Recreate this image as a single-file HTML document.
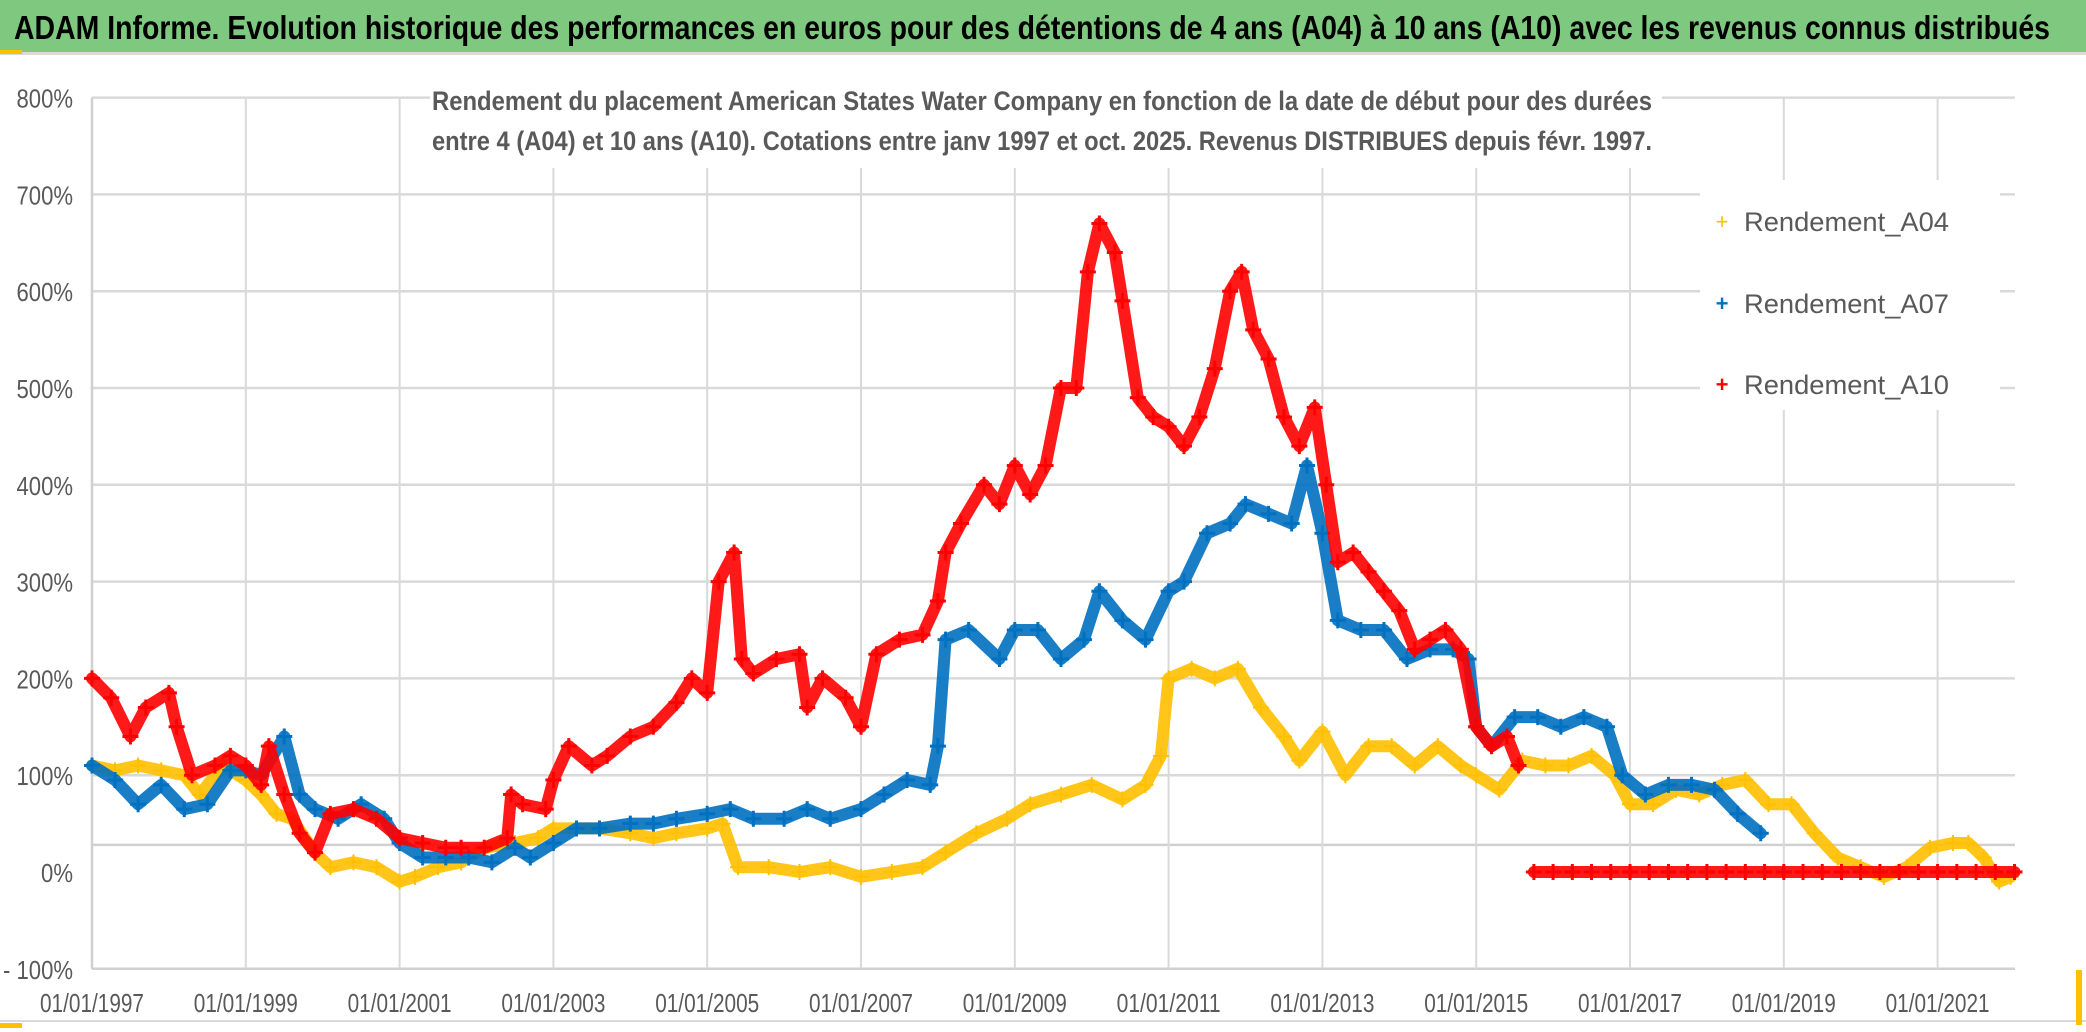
<!DOCTYPE html>
<html><head><meta charset="utf-8">
<style>
html,body{margin:0;padding:0;background:#fff;}
svg{display:block;font-family:"Liberation Sans",sans-serif;}
</style></head>
<body>
<svg id="chart" width="2086" height="1032" viewBox="0 0 2086 1032" xmlns="http://www.w3.org/2000/svg">
<rect x="0" y="0" width="2086" height="1032" fill="#fff"/>
<rect x="0" y="0" width="2086" height="52" fill="#7EC97F"/>
<rect x="0" y="52" width="2086" height="3" fill="#d9d9d9"/>
<rect x="0" y="50" width="22" height="4" fill="#FFC000"/>
<text x="14" y="39" font-size="33" font-weight="bold" fill="#000" textLength="2036" lengthAdjust="spacingAndGlyphs">ADAM Informe. Evolution historique des performances en euros pour des détentions de 4 ans (A04) à 10 ans (A10) avec les revenus connus distribués</text>
<g id="grid"></g>
<g id="series"></g>
<rect x="430" y="78" width="1232" height="90" fill="#fff"/>
<text x="1042" y="110" font-size="27" font-weight="bold" fill="#595959" text-anchor="middle" textLength="1220" lengthAdjust="spacingAndGlyphs">Rendement du placement American States Water Company en fonction de la date de début pour des durées</text>
<text x="1042" y="150" font-size="27" font-weight="bold" fill="#595959" text-anchor="middle" textLength="1220" lengthAdjust="spacingAndGlyphs">entre 4 (A04) et 10 ans (A10). Cotations entre janv 1997 et oct. 2025. Revenus DISTRIBUES depuis févr. 1997.</text>
<g id="axes"></g>
<g>
 <rect x="1700" y="180" width="300" height="230" fill="#fff"/>
 <g>
  <text x="1722" y="229" font-size="22" fill="#FFC000" text-anchor="middle">+</text>
  <text x="1744" y="231" font-size="27" fill="#595959" textLength="205" lengthAdjust="spacingAndGlyphs">Rendement_A04</text>
 </g>
 <g>
  <text x="1722" y="311" font-size="22" font-weight="bold" fill="#0070C0" text-anchor="middle">+</text>
  <text x="1744" y="313" font-size="27" fill="#595959" textLength="205" lengthAdjust="spacingAndGlyphs">Rendement_A07</text>
 </g>
 <g>
  <text x="1722" y="392" font-size="22" font-weight="bold" fill="#FF0000" text-anchor="middle">+</text>
  <text x="1744" y="394" font-size="27" fill="#595959" textLength="205" lengthAdjust="spacingAndGlyphs">Rendement_A10</text>
 </g>
</g>
<rect x="0" y="1020" width="2086" height="2" fill="#d9d9d9"/>
<rect x="0" y="1023" width="22" height="5" fill="#FFC000"/>
<rect x="2076" y="970" width="6" height="55" fill="#FFC000"/>
</svg>
<script>
var yTicks = [800,700,600,500,400,300,200,100,0,-100];
var extraGrid = [28];
var xTickYears = [1997,1999,2001,2003,2005,2007,2009,2011,2013,2015,2017,2019,2021];

var a04Dates = [1997.0,1997.3,1997.6,1997.9,1998.2,1998.4,1998.7,1999.0,1999.2,1999.4,1999.6,1999.9,2000.1,2000.4,2000.7,2001.0,2001.2,2001.5,2001.8,2002.1,2002.5,2002.8,2003.0,2003.3,2003.6,2004.0,2004.3,2004.6,2005.0,2005.2,2005.4,2005.8,2006.2,2006.6,2007.0,2007.4,2007.8,2008.1,2008.5,2008.9,2009.2,2009.6,2010.0,2010.4,2010.7,2010.9,2011.0,2011.3,2011.6,2011.9,2012.2,2012.5,2012.7,2013.0,2013.3,2013.6,2013.9,2014.2,2014.5,2014.8,2015.0,2015.3,2015.6,2015.9,2016.2,2016.5,2016.8,2017.0,2017.3,2017.6,2017.9,2018.2,2018.5,2018.8,2019.1,2019.4,2019.7,2020.0,2020.3,2020.6,2020.9,2021.2,2021.4,2021.6,2021.8,2021.95];
var a04Values = [110,105,110,105,100,80,110,95,80,60,55,20,5,10,5,-10,-5,5,10,25,30,35,45,45,45,40,35,40,45,50,5,5,0,5,-5,0,5,20,40,55,70,80,90,75,90,120,200,210,200,210,170,140,115,145,100,130,130,110,130,110,100,85,115,110,110,120,100,70,70,85,80,90,95,70,70,40,15,5,-5,5,25,30,30,15,-10,-5];

var a07Dates = [1997.0,1997.3,1997.6,1997.9,1998.2,1998.5,1998.8,1999.0,1999.2,1999.5,1999.7,1999.9,2000.2,2000.5,2000.8,2001.0,2001.3,2001.6,2001.9,2002.2,2002.5,2002.7,2003.0,2003.3,2003.6,2004.0,2004.3,2004.6,2005.0,2005.3,2005.6,2006.0,2006.3,2006.6,2007.0,2007.3,2007.6,2007.9,2008.0,2008.1,2008.4,2008.8,2009.0,2009.3,2009.6,2009.9,2010.1,2010.4,2010.7,2011.0,2011.2,2011.5,2011.8,2012.0,2012.3,2012.6,2012.8,2013.0,2013.2,2013.5,2013.8,2014.1,2014.4,2014.7,2014.9,2015.0,2015.2,2015.5,2015.8,2016.1,2016.4,2016.7,2016.9,2017.2,2017.5,2017.8,2018.1,2018.4,2018.7];
var a07Values = [110,95,70,90,65,70,105,105,100,140,80,65,55,70,55,30,15,15,15,10,25,15,30,45,45,50,50,55,60,65,55,55,65,55,65,80,95,90,130,240,250,220,250,250,220,240,290,260,240,290,300,350,360,380,370,360,420,350,260,250,250,220,230,230,220,150,130,160,160,150,160,150,100,80,90,90,85,60,40];

var a10Dates = [1997.0,1997.25,1997.5,1997.7,1998.0,1998.1,1998.3,1998.6,1998.8,1999.0,1999.2,1999.3,1999.5,1999.7,1999.9,2000.1,2000.4,2000.7,2001.0,2001.3,2001.6,2001.8,2002.1,2002.4,2002.45,2002.6,2002.9,2003.0,2003.2,2003.5,2003.7,2004.0,2004.3,2004.6,2004.8,2005.0,2005.15,2005.35,2005.45,2005.6,2005.9,2006.2,2006.3,2006.5,2006.8,2007.0,2007.2,2007.5,2007.8,2008.0,2008.1,2008.3,2008.6,2008.8,2009.0,2009.2,2009.4,2009.6,2009.8,2009.95,2010.1,2010.3,2010.4,2010.6,2010.8,2011.0,2011.2,2011.4,2011.6,2011.8,2011.95,2012.1,2012.3,2012.5,2012.7,2012.9,2013.05,2013.2,2013.4,2013.6,2013.8,2014.0,2014.2,2014.4,2014.6,2014.8,2015.0,2015.2,2015.4,2015.55];
var a10Values = [200,180,140,170,185,150,100,110,120,110,90,130,80,40,20,60,65,55,35,30,25,25,25,35,80,70,65,95,130,110,120,140,150,175,200,185,300,330,220,205,220,225,170,200,180,150,225,240,245,280,330,360,400,380,420,390,420,500,500,620,670,640,590,490,470,460,440,470,520,600,620,560,530,470,440,480,400,320,330,310,290,270,230,240,250,230,150,130,140,110];
var a10ZeroDates = [2015.75,2016.0,2016.25,2016.5,2016.75,2017.0,2017.25,2017.5,2017.75,2018.0,2018.25,2018.5,2018.75,2019.0,2019.25,2019.5,2019.75,2020.0,2020.25,2020.5,2020.75,2021.0,2021.25,2021.5,2021.75,2022.0];
var a10ZeroValues = [0,0,0,0,0,0,0,0,0,0,0,0,0,0,0,0,0,0,0,0,0,0,0,0,0,0];

var NS = "http://www.w3.org/2000/svg";
var X0 = 92, PXY = 76.9, Y0 = 872, PXV = 0.968, XR = 2015;
function xs(yr){ return X0 + (yr - 1997) * PXY; }
function ys(v){ return Y0 - v * PXV; }

var grid = document.getElementById('grid');
var axes = document.getElementById('axes');
var series = document.getElementById('series');

yTicks.forEach(function(v){
  var y = ys(v);
  if (v !== 0) {
    var ln = document.createElementNS(NS,'line');
    ln.setAttribute('x1', X0); ln.setAttribute('x2', XR);
    ln.setAttribute('y1', y); ln.setAttribute('y2', y);
    ln.setAttribute('stroke', v === -100 ? '#d0d0d0' : '#d9d9d9');
    ln.setAttribute('stroke-width', 2.5);
    
    
    grid.appendChild(ln);
  }
  var t = document.createElementNS(NS,'text');
  t.setAttribute('x', 73); t.setAttribute('y', y + 10);
  t.setAttribute('text-anchor','end');
  t.setAttribute('font-size', 26);
  t.setAttribute('fill', '#595959');
  t.setAttribute('transform', 'translate(73,0) scale(0.85,1) translate(-73,0)');
  t.textContent = (v < 0 ? '- ' + (-v) : v) + '%';
  
  
  axes.appendChild(t);
});
extraGrid.forEach(function(v){
  var ln = document.createElementNS(NS,'line');
  ln.setAttribute('x1', X0); ln.setAttribute('x2', XR);
  ln.setAttribute('y1', ys(v)); ln.setAttribute('y2', ys(v));
  ln.setAttribute('stroke', '#d0d0d0');
  ln.setAttribute('stroke-width', 2.5);
  
  
  grid.appendChild(ln);
});
xTickYears.forEach(function(yr){
  var x = xs(yr);
  var ln = document.createElementNS(NS,'line');
  ln.setAttribute('x1', x); ln.setAttribute('x2', x);
  ln.setAttribute('y1', ys(800)); ln.setAttribute('y2', ys(-100));
  ln.setAttribute('stroke', '#d9d9d9');
  ln.setAttribute('stroke-width', 2);
  
  
  grid.appendChild(ln);
  var t = document.createElementNS(NS,'text');
  t.setAttribute('x', x); t.setAttribute('y', 1012);
  t.setAttribute('text-anchor','middle');
  t.setAttribute('font-size', 26);
  t.setAttribute('fill', '#595959');
  t.setAttribute('textLength', 104);
  t.setAttribute('lengthAdjust', 'spacingAndGlyphs');
  t.textContent = '01/01/' + yr;
  
  
  axes.appendChild(t);
});
var yax = document.createElementNS(NS,'line');
yax.setAttribute('x1', X0); yax.setAttribute('x2', X0);
yax.setAttribute('y1', ys(800)); yax.setAttribute('y2', ys(-100));
yax.setAttribute('stroke', '#d0d0d0'); yax.setAttribute('stroke-width', 2.5);


grid.appendChild(yax);

function drawSeries(dates, vals, color, name, bold){
  var g = document.createElementNS(NS,'g');
  
  
  series.appendChild(g);
  var pts = [];
  for (var i = 0; i < dates.length; i++){
    pts.push(xs(dates[i]).toFixed(1) + ',' + ys(vals[i]).toFixed(1));
  }
  var pl = document.createElementNS(NS,'polyline');
  pl.setAttribute('points', pts.join(' '));
  pl.setAttribute('fill','none');
  pl.setAttribute('stroke', color);
  pl.setAttribute('stroke-width', 12);
  pl.setAttribute('stroke-linejoin','round');
  pl.setAttribute('stroke-linecap','round');
  pl.setAttribute('stroke-opacity', 0.9);
  
  
  g.appendChild(pl);
  for (var j = 0; j < dates.length; j++){
    var x = xs(dates[j]), y = ys(vals[j]);
    var p = document.createElementNS(NS,'path');
    p.setAttribute('d', 'M' + (x-8) + ' ' + y + 'H' + (x+8) + 'M' + x + ' ' + (y-8) + 'V' + (y+8));
    p.setAttribute('stroke', color);
    p.setAttribute('stroke-width', bold ? 3 : 2);
    
    
    g.appendChild(p);
  }
}
drawSeries(a04Dates, a04Values, '#FFC000', 'series-a04', false);
drawSeries(a07Dates, a07Values, '#0070C0', 'series-a07', true);
drawSeries(a10Dates, a10Values, '#FF0000', 'series-a10', true);
drawSeries(a10ZeroDates, a10ZeroValues, '#FF0000', 'series-a10-zero', true);
</script>
</body></html>
